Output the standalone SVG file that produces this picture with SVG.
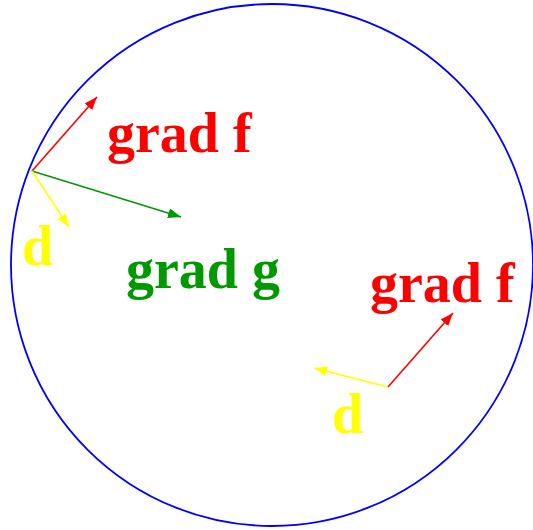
<svg xmlns="http://www.w3.org/2000/svg" width="533" height="530" viewBox="0 0 533 530">
<style>
.lbl{font-family:"Liberation Serif","Times New Roman",serif;font-weight:bold;font-size:56px}
.v{stroke-width:1.6;fill:none}
</style>
<defs>
<marker id="ar" markerUnits="userSpaceOnUse" markerWidth="14" markerHeight="12" refX="13" refY="5" orient="auto"><path d="M0,0 L13,5 L0,10 z" fill="#ff0000"/></marker>
<marker id="ag" markerUnits="userSpaceOnUse" markerWidth="14" markerHeight="12" refX="13" refY="5" orient="auto"><path d="M0,0 L13,5 L0,10 z" fill="#009900"/></marker>
<marker id="ay" markerUnits="userSpaceOnUse" markerWidth="14" markerHeight="12" refX="13" refY="5" orient="auto"><path d="M0,0 L13,5 L0,10 z" fill="#ffff00"/></marker>
</defs>
<g id="circle"><circle cx="272" cy="265" r="261" fill="none" stroke="#0000ff" stroke-width="1.8"/></g>
<g id="connectors">
<line class="v" x1="32" y1="171" x2="97" y2="97" stroke="#ff0000" marker-end="url(#ar)"/>
<line class="v" x1="32" y1="171" x2="181" y2="217" stroke="#009900" marker-end="url(#ag)"/>
<line class="v" x1="32" y1="171" x2="69" y2="227" stroke="#ffff00" marker-end="url(#ay)"/>
<line class="v" x1="388" y1="387" x2="453" y2="313" stroke="#ff0000" marker-end="url(#ar)"/>
<line class="v" x1="388" y1="387" x2="314" y2="368" stroke="#ffff00" marker-end="url(#ay)"/>
</g>
<g id="label-gradf1"><text class="lbl" x="107" y="152" fill="#ff0000">grad f</text></g>
<g id="label-gradg"><text class="lbl" x="126" y="288" fill="#009900">grad g</text></g>
<g id="label-d1"><text class="lbl" x="22" y="265" fill="#ffff00">d</text></g>
<g id="label-gradf2"><text class="lbl" x="370" y="302" fill="#ff0000">grad f</text></g>
<g id="label-d2"><text class="lbl" x="332" y="433" fill="#ffff00">d</text></g>
</svg>
